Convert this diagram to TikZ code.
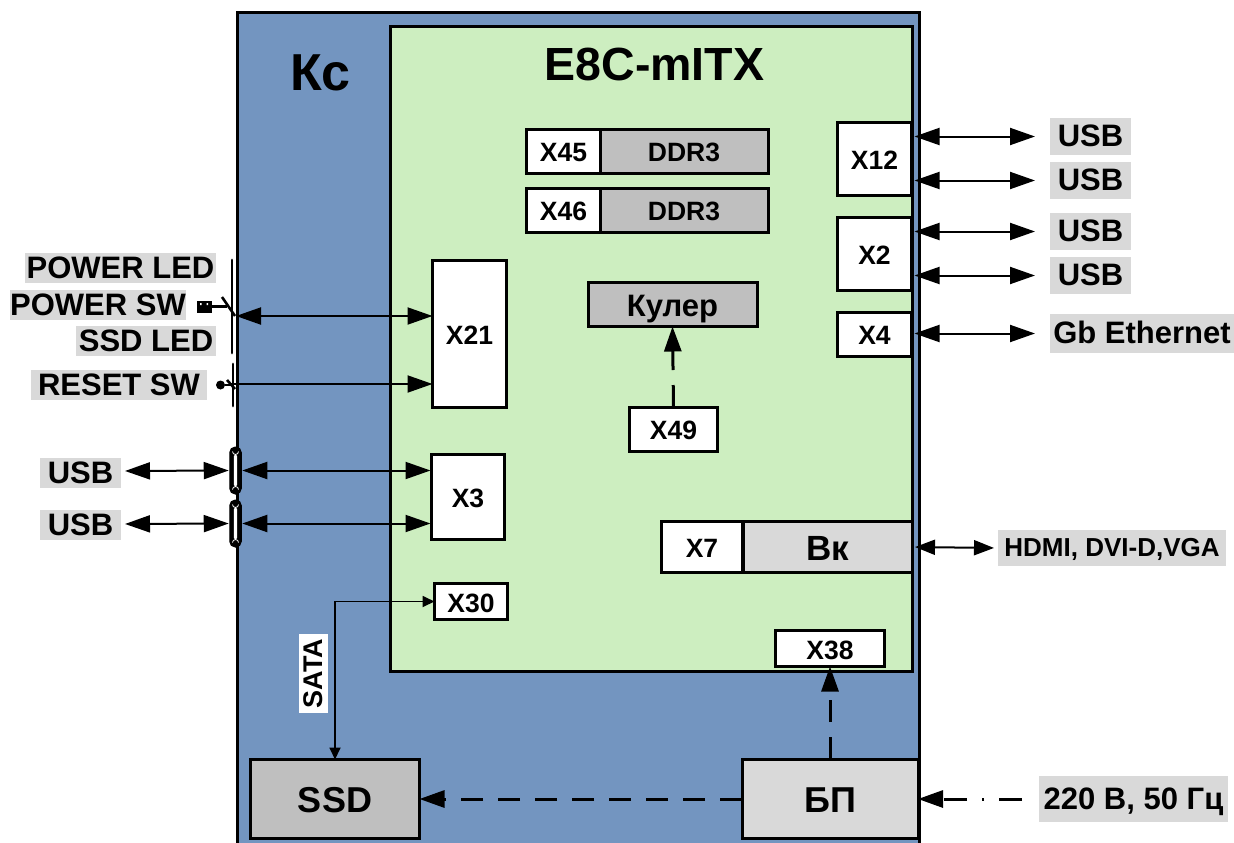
\documentclass[tikz,border=0pt]{standalone}
\usepackage{fontspec}
\setmainfont{Liberation Sans}
\usetikzlibrary{arrows.meta,calc}
\definecolor{kcblue}{RGB}{115,149,192}
\definecolor{boardgreen}{RGB}{205,238,192}
\definecolor{darkgr}{RGB}{191,191,191}
\definecolor{lightgr}{RGB}{217,217,217}
\tikzset{
  fs/.style={font=\fontsize{#1}{#1}\selectfont\bfseries,text height={#1*0.72pt-1.5pt},text depth=0pt},
  fsb/.style={font=\fontsize{#1}{#1}\selectfont\bfseries,text height={#1*0.72pt+2pt},text depth=0pt},
  box/.style={draw,line width=3pt,inner sep=0,outer sep=0,fill=white,fsb=26.5},
  lab/.style={fill=lightgr,inner sep=0,outer sep=0,fs=31},
  tipb/.tip={Triangle[length=25pt,width=17pt]},
  thinline/.style={line width=2pt},
  both/.style={thinline,{tipb}-{tipb}},
  dashline/.style={line width=3pt,dash pattern=on 22pt off 15pt,-{tipb}},
  bar/.style={line width=2.8pt,line cap=round},
  lever/.style={line width=2.6pt},
  capsule/.style={draw,fill=black,rounded corners=5.5pt,line width=1pt,inner sep=0,outer sep=0,minimum width=11.5pt,minimum height=47pt},
}
\begin{document}
\begin{tikzpicture}[x=1pt,y=-1pt]
\useasboundingbox (0,0) rectangle (1234,843);
% enclosures
\begin{scope}
\clip (0,0) rectangle (1234,843);
\draw[line width=3pt,fill=kcblue] (237.5,12.5) rectangle (919.5,870);
\end{scope}
\draw[line width=3pt,fill=boardgreen] (390.5,26.5) rectangle (912.5,671);
\node[fs=46.5] (board) at (654.5,65) {E8C-mITX};
\node[fs=52] (kc) at (320,73) {Кс};
% memory
\node[box,minimum width=74pt,minimum height=44pt] (x45) at (563.5,151) {X45};
\node[box,fill=darkgr,minimum width=168pt,minimum height=44pt] (ddra) at (684,151) {DDR3};
\node[box,minimum width=74pt,minimum height=44pt] (x46) at (563.5,210) {X46};
\node[box,fill=darkgr,minimum width=168pt,minimum height=44pt] (ddrb) at (684,210) {DDR3};
% connectors on the board
\node[box,minimum width=74pt,minimum height=73pt] (x12) at (874.5,158.5) {X12};
\node[box,minimum width=74pt,minimum height=73pt] (x2) at (874.5,253.5) {X2};
\node[box,minimum width=74pt,minimum height=44pt] (x4) at (874.5,334) {X4};
\node[box,minimum width=74pt,minimum height=147pt] (x21) at (469.5,333.5) {X21};
\node[box,fill=darkgr,minimum width=169pt,minimum height=44pt,fsb=31] (cooler) at (672.5,304.5) {Кулер};
\node[box,minimum width=88pt,minimum height=44pt] (x49) at (673.5,429) {X49};
\node[box,minimum width=73pt,minimum height=85pt] (x3) at (468,497) {X3};
\node[box,minimum width=81pt,minimum height=51pt] (x7) at (702,547) {X7};
\node[box,fill=lightgr,minimum width=169pt,minimum height=51pt,fsb=35] (vk) at (827.5,547) {Вк};
\node[box,minimum width=73pt,minimum height=36pt] (x30) at (471,601.5) {X30};
\node[box,minimum width=109pt,minimum height=36pt] (x38) at (830,648.5) {X38};
% lower units
\node[box,fill=darkgr,minimum width=169pt,minimum height=79pt,fsb=36] (ssd) at (335,799) {SSD};
\node[box,fill=lightgr,minimum width=176pt,minimum height=79pt,fsb=36] (psu) at (830,799) {БП};
% right labels
\node[lab,minimum width=81pt,minimum height=37pt] (usba) at (1090.5,136.5) {USB};
\node[lab,minimum width=81pt,minimum height=37pt] (usbb) at (1090.5,180.5) {USB};
\node[lab,minimum width=81pt,minimum height=37pt] (usbc) at (1090.5,231.5) {USB};
\node[lab,minimum width=81pt,minimum height=37pt] (usbd) at (1090.5,275.5) {USB};
\node[lab,minimum width=184pt,minimum height=39pt] (gbe) at (1142,333.5) {Gb Ethernet};
\node[lab,minimum width=228pt,minimum height=36pt,fs=26] (hdmi) at (1112,548) {HDMI, DVI-D,VGA};
\node[lab,minimum width=189pt,minimum height=46pt] (power) at (1133.5,799) {220 В, 50 Гц\hspace{5pt}};
% left labels
\node[lab,minimum width=191pt,minimum height=30pt] (pled) at (120.5,268) {POWER LED};
\node[lab,minimum width=176pt,minimum height=30pt] (psw) at (98,305) {POWER SW};
\node[lab,minimum width=140pt,minimum height=30pt] (sled) at (146,341) {SSD LED};
\node[lab,minimum width=176pt,minimum height=30pt] (rsw) at (119,385) {RESET SW};
\node[lab,minimum width=81pt,minimum height=30pt] (usbl) at (80.5,473) {USB};
\node[lab,minimum width=81pt,minimum height=30pt] (usbm) at (80.5,525) {USB};
% front panel capsules
\node[capsule] (capa) at (235.5,470.5) {};
\node[capsule] (capb) at (235.5,523.5) {};
\fill[white,rounded corners=1.5pt] ($(capa.center)+(-1.7,-16)$) rectangle ($(capa.center)+(1.7,16)$);
\fill[white,rounded corners=1.5pt] ($(capb.center)+(-1.7,-16)$) rectangle ($(capb.center)+(1.7,16)$);
\draw[white,line width=.8pt] ($(capa.center)+(-3,-19)$) arc[start angle=180,end angle=0,radius=3];
\draw[white,line width=.8pt] ($(capa.center)+(-3,19)$) arc[start angle=180,end angle=360,radius=3];
\draw[white,line width=.8pt] ($(capb.center)+(-3,-19)$) arc[start angle=180,end angle=0,radius=3];
\draw[white,line width=.8pt] ($(capb.center)+(-3,19)$) arc[start angle=180,end angle=360,radius=3];
% switches
\coordinate (barAtop) at (232,260);
\coordinate (barAbot) at (232,353);
\coordinate (barBtop) at (233,364);
\coordinate (barBbot) at (233,406);
\draw[bar] (barAtop) -- (barAbot);
\draw[bar] (barBtop) -- (barBbot);
\node[draw,fill=black,inner sep=0,minimum width=14pt,minimum height=11pt,line width=.5pt] (pwrplug) at (204,306.5) {};
\fill[white] (200,303) rectangle (201.5,305) (206.5,303) rectangle (208,305);
\coordinate (pwrmid) at (227,306.5);
\coordinate (pwrlevA) at (222,297);
\coordinate (pwrlevB) at (235,316);
\draw[lever] (pwrplug) -- (pwrmid);
\draw[lever] (pwrlevA) -- (pwrlevB);
\node[circle,fill=black,inner sep=0,minimum size=9pt] (rstplug) at (220.5,385) {};
\coordinate (rstmid) at (231,385);
\coordinate (rstlevA) at (227,380);
\coordinate (rstlevB) at (235,389);
\draw[lever] (rstplug) -- (rstmid);
\draw[lever] (rstlevA) -- (rstlevB);
% connections right
\draw[both,shorten <=3pt,shorten >=15pt] (x12.east |- usba.west) -- (usba.west);
\draw[both,shorten <=3pt,shorten >=15pt] (x12.east |- usbb.west) -- (usbb.west);
\draw[both,shorten <=3pt,shorten >=15pt] (x2.east |- usbc.west) -- (usbc.west);
\draw[both,shorten <=3pt,shorten >=15pt] (x2.east |- usbd.west) -- (usbd.west);
\draw[both,shorten <=3pt,shorten >=15pt] (x4.east |- gbe.west) -- (gbe.west);
\draw[thinline,{Triangle[length=20pt,width=15pt]}-{Triangle[length=20pt,width=15pt]},shorten <=3pt,shorten >=4pt] (vk.east) -- (hdmi.west);
% connections left
\coordinate (pwrend) at (236,316);
\draw[both] (pwrend) -- (x21.west |- pwrend);
\coordinate (rstend) at (231,384);
\draw[thinline,-{tipb}] (rstend) -- (x21.west |- rstend);
\draw[both,shorten <=4pt,shorten >=1pt] (usbl.east |- 0,471) -- (capa.west);
\draw[both,shorten <=4pt,shorten >=1pt] (usbm.east |- 0,524) -- (capb.west);
\draw[both,shorten <=1pt,shorten >=1pt] (capa.east) -- (x3.west |- capa.east);
\draw[both,shorten <=1pt,shorten >=1pt] (capb.east) -- (x3.west |- capb.east);
% SATA
\draw[line width=1.8pt,{Triangle[length=12pt,width=11pt]}-{Triangle[length=12pt,width=11pt]}] (x30.west) -| (ssd.north);
\node[fill=white,rotate=90,inner sep=0,outer sep=0,minimum width=79pt,minimum height=29pt,fs=27] (sata) at (313.5,673.5) {SATA};
% dashed power lines
\draw[dashline] (x49.north) -- (cooler.south);
\draw[dashline] (psu.north |- 0,759) -- (psu.north |- x38.south);
\draw[dashline] (psu.west) -- (ssd.east);
\draw[line width=3pt,dash pattern=on 23pt off 15pt on 2pt off 15pt,-{tipb},shorten <=17pt] (power.west) -- (psu.east);
\end{tikzpicture}
\end{document}
